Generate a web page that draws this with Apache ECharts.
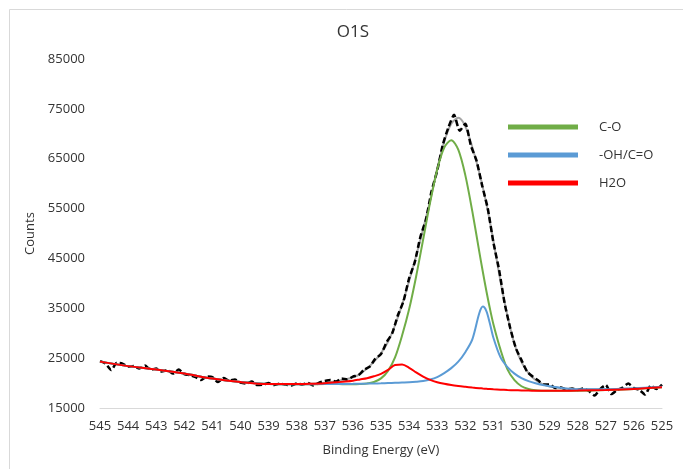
<!DOCTYPE html>
<html>
<head>
<meta charset="utf-8">
<title>O1S</title>
<script src="https://cdn.jsdelivr.net/npm/echarts@6/dist/echarts.min.js"></script>
<style>
  html, body { margin: 0; padding: 0; background: #fff; }
  #chart { width: 683px; height: 469px; }
</style>
</head>
<body>
<div id="chart"></div>
<script>
// binding energies (eV) used by the fitted curves
var fitEnergy = [545, 544, 543, 542, 541, 540, 539, 538, 537.5, 537,
  536.5, 536.25, 536, 535.75, 535.5, 535.25, 535, 534.75, 534.5, 534.25,
  534, 533.75, 533.5, 533.25, 533, 532.75, 532.5, 532.25, 532, 531.75,
  531.5, 531.375, 531.25, 531.125, 531, 530.75, 530.5, 530.25, 530, 529.75,
  529.5, 529.25, 529, 528.5, 528, 527, 526, 525];

// fitted peaks (counts, background included)
var coValues = [24300, 23400, 22700, 21900, 20900, 20200, 19800, 19750, 19770, 19800,
  19790, 19785, 19785, 19825, 19920, 20205, 20940, 22455, 25150, 29530,
  34790, 41380, 48800, 56300, 62800, 67220, 68700, 66810, 61710, 54430,
  46270, 42270, 38460, 34950, 31800, 26750, 22740, 20570, 19360, 18800,
  18550, 18470, 18440, 18450, 18480, 18600, 18800, 19150];

var ohValues = [24300, 23400, 22700, 21900, 20900, 20200, 19800, 19750, 19775, 19810,
  19820, 19830, 19840, 19865, 19890, 19920, 19950, 20000, 20050, 20100,
  20150, 20250, 20400, 20700, 21200, 22000, 23000, 24300, 26200, 28760,
  34060, 35350, 34450, 31950, 29090, 25200, 23200, 21900, 21000, 20400,
  19950, 19600, 19350, 18950, 18750, 18750, 18930, 19240];

var h2oValues = [24300, 23400, 22700, 21900, 20900, 20200, 19800, 19790, 19860, 19980,
  20190, 20315, 20480, 20725, 20970, 21360, 21850, 22635, 23620, 23700,
  23070, 22140, 21300, 20650, 20180, 19850, 19600, 19410, 19250, 19100,
  18970, 18910, 18855, 18795, 18750, 18680, 18610, 18560, 18520, 18495,
  18470, 18455, 18460, 18475, 18500, 18610, 18805, 19150];

// fit envelope
var envValues = [24300, 23400, 22700, 21900, 20900, 20200, 19800, 19780, 19850, 20050,
  20450, 20750, 21150, 21800, 22900, 24300, 26000, 28300, 31600, 35700,
  40500, 45500, 50900, 56600, 63000, 68400, 72000, 73200, 71500, 67300,
  62200, 59200, 56000, 52400, 48500, 40500, 33500, 27800, 24200, 22000,
  20600, 19800, 19300, 18950, 18750, 18750, 18900, 19200];

// measured spectrum, 0.2 eV steps from 545 to 525
var rawStart = 545;
var rawStep = 0.2;
var rawValues = [
  24400, 23900, 22600, 24100, 23900, 23300, 23400, 22900, 23500, 22700,
  22900, 22300, 22600, 21900, 22700, 21800, 21600, 21200, 20600, 21300,
  21200, 20200, 21000, 20500, 20700, 20100, 19900, 20300, 19600, 19700,
  20000, 19600, 19900, 19700, 19500, 19900, 19700, 20000, 19500, 20100,
  20400, 20600, 20300, 20900, 20700, 21300, 21600, 22700, 23300, 24900,
  25800, 28200, 30000, 33600, 36400, 41000, 44200, 49300, 52800, 58500,
  62600, 67800, 71300, 73800, 70600, 72000, 67600, 64600, 59600, 55000,
  48200, 42800, 36000, 31000, 27000, 24600, 22300, 21300, 20500, 19700,
  19700, 19000, 19100, 18700, 18900, 18600, 18900, 18400, 17500, 18800,
  19600, 17800, 18600, 19100, 19900, 19000, 18600, 17700, 19500, 18800,
  19700];

var xTicks = { min: 525, max: 545, step: 1 };
var yTicks = { min: 15000, max: 85000, step: 10000 };

function pairs(xs, ys) {
  return ys.map(function (y, i) { return [xs[i], y]; });
}
var rawData = rawValues.map(function (y, i) {
  return [+(rawStart - i * rawStep).toFixed(1), y];
});

var textColor = '#333333';
var font = 'Open Sans';

var chart = echarts.init(document.getElementById('chart'), null, { renderer: 'canvas' });
var option = {
  animation: false,
  backgroundColor: '#ffffff',
  title: {
    text: 'O1S',
    left: 348,
    top: 19,
    textAlign: 'center',
    textStyle: { fontFamily: font, fontSize: 17, fontWeight: 'normal', color: textColor }
  },
  legend: {
    data: ['C-O', '-OH/C=O', 'H2O'],
    orient: 'vertical',
    left: 508,
    top: 119,
    padding: 0,
    itemGap: 12,
    itemWidth: 70,
    itemHeight: 5,
    icon: 'rect',
    textStyle: {
      fontFamily: font, fontSize: 13, color: textColor,
      lineHeight: 16, padding: [0, 0, 0, 16]
    }
  },
  graphic: [{
    type: 'rect',
    silent: true,
    shape: { x: 9.5, y: 9.5, width: 700, height: 500 },
    style: { fill: 'none', stroke: '#d9d9d9', lineWidth: 1 }
  }],
  grid: { left: 100, right: 21, top: 59, bottom: 61 },
  xAxis: {
    type: 'value',
    inverse: true,
    min: xTicks.min,
    max: xTicks.max,
    interval: xTicks.step,
    name: 'Binding Energy (eV)',
    nameLocation: 'middle',
    nameGap: 36,
    nameTextStyle: { fontFamily: font, fontSize: 13, color: textColor },
    axisLine: { lineStyle: { color: '#d9d9d9', width: 1 } },
    axisTick: { show: false },
    splitLine: { show: false },
    axisLabel: { fontFamily: font, fontSize: 13, color: textColor, margin: 12 }
  },
  yAxis: {
    type: 'value',
    min: yTicks.min,
    max: yTicks.max,
    interval: yTicks.step,
    name: 'Counts',
    nameLocation: 'middle',
    nameGap: 54,
    nameTextStyle: { fontFamily: font, fontSize: 13, color: textColor },
    axisLine: { show: false },
    axisTick: { show: false },
    splitLine: { show: false },
    axisLabel: {
      fontFamily: font, fontSize: 13, color: textColor, margin: 15,
      formatter: function (v) { return String(v); }
    }
  },
  series: [
    {
      name: 'Envelope',
      type: 'line',
      data: pairs(fitEnergy, envValues),
      showSymbol: false,
      smooth: 0.3,
      color: '#a6a6a6',
      lineStyle: { color: '#a6a6a6', width: 2 }
    },
    {
      name: 'Raw',
      type: 'line',
      data: rawData,
      showSymbol: false,
      smooth: 0.2,
      color: '#000000',
      lineStyle: { color: '#000000', width: 2.5, type: [6, 3] }
    },
    {
      name: 'C-O',
      type: 'line',
      data: pairs(fitEnergy, coValues),
      showSymbol: false,
      smooth: 0.3,
      color: '#70ad47',
      lineStyle: { color: '#70ad47', width: 2 }
    },
    {
      name: '-OH/C=O',
      type: 'line',
      data: pairs(fitEnergy, ohValues),
      showSymbol: false,
      smooth: 0.3,
      color: '#5b9bd5',
      lineStyle: { color: '#5b9bd5', width: 2 }
    },
    {
      name: 'H2O',
      type: 'line',
      data: pairs(fitEnergy, h2oValues),
      showSymbol: false,
      smooth: 0.3,
      color: '#ff0000',
      lineStyle: { color: '#ff0000', width: 2 }
    }
  ]
};
chart.setOption(option);
</script>
</body>
</html>
